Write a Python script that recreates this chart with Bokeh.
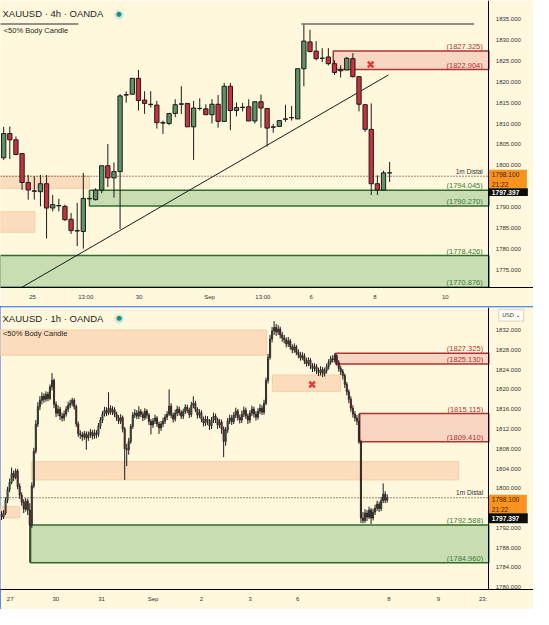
import numpy as np
from bokeh.plotting import figure
from bokeh.models import (Range1d, LinearAxis, FixedTicker, PrintfTickFormatter,
                          ColumnDataSource, Label)
from bokeh.layouts import column
from bokeh.embed import file_html
from bokeh.resources import INLINE
from bokeh.core.properties import value

# ======================= DATA : 4h panel =======================
h4_open = [1801.8, 1807.6, 1806.1, 1802.8, 1795.9, 1793.9, 1793.7, 1795.6, 1789.8, 1790.4,
           1790.2, 1787.1, 1784.4, 1784.2, 1792.0, 1791.8, 1794.1, 1799.9, 1797.0, 1798.5,
           1816.8, 1817.0, 1820.8, 1815.6, 1814.6, 1814.4, 1810.2, 1810.0, 1812.4, 1814.6,
           1814.8, 1809.2, 1813.6, 1813.5, 1812.1, 1814.6, 1810.5, 1818.9, 1813.1, 1813.9,
           1814.0, 1810.6, 1815.2, 1813.6, 1809.2, 1809.3, 1811.0, 1811.4, 1811.1, 1823.1,
           1829.5, 1827.3, 1825.6, 1825.9, 1824.3, 1822.6, 1822.8, 1825.5, 1821.2, 1814.5,
           1808.6, 1795.6, 1794.1, 1798.2]
h4_high = [1809.2, 1809.3, 1806.9, 1802.8, 1797.7, 1797.4, 1797.7, 1797.7, 1792.9, 1792.0,
           1790.6, 1788.6, 1791.0, 1798.2, 1792.3, 1794.5, 1799.9, 1805.1, 1800.7, 1817.0,
           1817.7, 1820.8, 1822.8, 1817.7, 1817.7, 1815.4, 1810.7, 1812.4, 1815.8, 1818.9,
           1814.8, 1815.4, 1816.0, 1814.6, 1815.8, 1816.8, 1819.7, 1819.7, 1815.0, 1814.9,
           1815.8, 1815.2, 1816.9, 1813.6, 1809.9, 1810.7, 1814.5, 1814.2, 1823.1, 1833.6,
           1832.4, 1829.7, 1828.0, 1828.0, 1825.1, 1823.9, 1825.9, 1826.8, 1821.2, 1814.5,
           1814.8, 1797.6, 1798.7, 1800.8]
h4_low = [1801.3, 1801.5, 1802.4, 1794.1, 1791.8, 1791.8, 1790.2, 1782.5, 1789.0, 1789.0,
          1786.7, 1783.6, 1780.7, 1780.1, 1791.8, 1791.6, 1793.3, 1794.8, 1792.3, 1784.8,
          1815.0, 1817.0, 1813.1, 1812.3, 1813.8, 1808.8, 1807.5, 1809.6, 1811.5, 1812.3,
          1809.2, 1801.3, 1813.1, 1812.1, 1810.0, 1809.0, 1810.5, 1808.4, 1811.7, 1812.9,
          1810.6, 1810.0, 1809.0, 1804.5, 1807.8, 1809.3, 1810.4, 1810.7, 1811.1, 1818.9,
          1827.0, 1825.1, 1824.7, 1823.9, 1821.6, 1821.0, 1822.8, 1821.0, 1812.9, 1808.0,
          1792.9, 1792.9, 1794.1, 1796.0]
h4_close = [1807.6, 1806.1, 1802.6, 1795.9, 1794.1, 1793.8, 1795.6, 1789.8, 1790.6, 1790.3,
            1787.0, 1784.4, 1784.3, 1792.1, 1792.1, 1794.1, 1799.9, 1797.0, 1798.5, 1816.6,
            1816.9, 1820.8, 1815.5, 1814.8, 1814.5, 1810.2, 1810.1, 1812.4, 1814.5, 1814.7,
            1809.2, 1813.7, 1813.6, 1812.1, 1814.6, 1810.5, 1818.9, 1813.1, 1813.8, 1813.8,
            1810.6, 1815.2, 1813.7, 1808.9, 1809.1, 1810.7, 1811.1, 1811.4, 1823.1, 1829.7,
            1827.2, 1825.5, 1825.6, 1824.3, 1822.2, 1822.8, 1825.6, 1821.2, 1814.6, 1808.6,
            1795.6, 1794.1, 1798.2, 1798.2]

h4_time_ticks = [4.7, 13.4, 22.1, 33.6, 42.3, 50.2, 60.6, 72.1]
h4_time_labels = ["25", "13:00", "30", "Sep", "13:00", "6", "8", "10"]
h4_price_ticks = [1775, 1780, 1785, 1790, 1800, 1805, 1810, 1815, 1820, 1825, 1830, 1835]

h4_red_left = [53.8]
h4_red_bottom = [1822.904]
h4_red_top = [1827.325]
h4_green_left = [14.0, -0.6]
h4_green_bottom = [1790.270, 1770.876]
h4_green_top = [1794.045, 1778.426]
h4_peach_left = [-0.6, -0.6]
h4_peach_right = [14.0, 5.1]
h4_peach_bottom = [1794.5, 1784.0]
h4_peach_top = [1797.4, 1788.9]
h4_trend_x = [2.9, 62.8]
h4_trend_y = [1770.8, 1821.6]
h4_high_line_x0 = [-0.6, 48.6]
h4_high_line_x1 = [12.2, 76.8]
h4_high_line_y = 1833.8
h4_cross_x = [59.9]
h4_cross_y = [1824.1]
h4_distal = 1797.4

# ======================= DATA : 1h panel =======================
h1_first_open = 1794.8
h1_close = [1794.2, 1795.0, 1797.6, 1799.8, 1801.2, 1803.0, 1802.2, 1803.5, 1800.4, 1798.6,
            1797.2, 1795.8, 1797.4, 1795.6, 1792.6, 1800.5, 1807.5, 1813.0, 1816.5, 1817.8,
            1818.6, 1818.0, 1819.0, 1818.2, 1820.5, 1821.8, 1817.0, 1815.2, 1816.0, 1814.6,
            1814.2, 1815.0, 1816.0, 1816.8, 1817.2, 1817.8, 1816.5, 1813.0, 1811.0, 1810.8,
            1810.4, 1811.0, 1810.2, 1810.8, 1811.3, 1810.6, 1811.2, 1810.9, 1812.6, 1813.8,
            1815.0, 1815.8, 1815.2, 1816.2, 1815.4, 1815.9, 1815.0, 1814.2, 1813.6, 1814.3,
            1812.0, 1808.0, 1807.8, 1809.5, 1812.5, 1814.8, 1815.2, 1814.6, 1815.5, 1815.0,
            1814.3, 1815.6, 1814.8, 1813.5, 1812.8, 1813.6, 1814.2, 1813.0, 1812.2, 1813.0,
            1813.6, 1814.4, 1815.0, 1816.6, 1814.8, 1814.0, 1815.2, 1816.0, 1815.3, 1814.6,
            1815.5, 1816.4, 1815.8, 1814.9, 1816.8, 1817.2, 1816.0, 1814.8, 1815.3, 1814.0,
            1813.2, 1814.0, 1813.5, 1812.6, 1813.8, 1814.6, 1813.9, 1812.8, 1813.4, 1812.0,
            1809.5, 1811.8, 1813.6, 1814.2, 1813.5, 1814.8, 1815.6, 1814.3, 1813.8, 1815.0,
            1815.8, 1814.6, 1813.8, 1815.2, 1816.0, 1815.0, 1814.4, 1815.6, 1816.2, 1815.4,
            1817.2, 1821.8, 1826.5, 1830.2, 1831.8, 1832.5, 1831.6, 1832.2, 1831.0, 1830.4,
            1830.0, 1829.2, 1829.8, 1828.6, 1828.0, 1828.6, 1827.5, 1827.0, 1826.4, 1826.8,
            1825.8, 1825.2, 1825.9, 1824.8, 1824.2, 1824.6, 1823.8, 1823.4, 1824.0, 1823.2,
            1823.8, 1824.6, 1825.5, 1826.2, 1826.0, 1826.8, 1825.4, 1824.2, 1823.6, 1822.8,
            1821.0, 1819.5, 1818.0, 1816.2, 1815.0, 1814.2, 1813.6, 1809.4, 1794.0, 1793.5,
            1795.0, 1794.2, 1795.6, 1794.0, 1795.2, 1796.0, 1796.8, 1795.9, 1797.5, 1798.8,
            1797.6, 1798.1]
h1_high = [1795.4, 1795.6, 1798.2, 1800.3, 1802.0, 1804.2, 1803.6, 1804.0, 1803.9, 1801.0,
           1799.2, 1797.8, 1798.0, 1797.9, 1797.0, 1801.2, 1808.2, 1813.8, 1817.4, 1818.6,
           1819.4, 1819.2, 1819.6, 1819.5, 1821.0, 1823.3, 1822.2, 1817.6, 1816.8, 1816.5,
           1815.3, 1815.7, 1816.6, 1817.5, 1817.9, 1818.3, 1818.2, 1816.9, 1813.5, 1811.7,
           1811.4, 1811.6, 1811.5, 1811.5, 1812.0, 1811.8, 1811.9, 1811.8, 1813.2, 1814.4,
           1815.6, 1816.5, 1816.4, 1819.4, 1816.8, 1816.6, 1816.4, 1815.5, 1814.8, 1815.0,
           1814.7, 1812.4, 1809.0, 1810.2, 1813.0, 1815.4, 1816.0, 1815.8, 1816.6, 1816.0,
           1815.5, 1816.2, 1816.0, 1815.2, 1814.0, 1814.2, 1814.9, 1814.6, 1813.5, 1813.6,
           1814.3, 1815.0, 1815.6, 1820.0, 1817.2, 1815.3, 1815.9, 1816.7, 1816.5, 1815.8,
           1816.1, 1817.0, 1816.9, 1816.3, 1817.5, 1818.6, 1817.7, 1816.4, 1816.0, 1815.8,
           1814.5, 1814.7, 1814.6, 1814.0, 1814.4, 1815.3, 1815.1, 1814.3, 1814.0, 1813.9,
           1812.5, 1812.4, 1814.2, 1814.9, 1814.8, 1815.4, 1816.3, 1816.0, 1814.9, 1815.7,
           1816.5, 1816.3, 1815.1, 1815.8, 1816.7, 1816.5, 1815.6, 1816.2, 1817.0, 1816.8,
           1817.9, 1822.4, 1827.2, 1831.0, 1832.6, 1833.8, 1833.2, 1833.0, 1832.7, 1831.6,
           1831.0, 1830.5, 1830.6, 1830.2, 1829.1, 1829.3, 1829.0, 1828.1, 1827.6, 1827.5,
           1827.3, 1826.4, 1826.5, 1826.3, 1825.3, 1825.3, 1825.1, 1824.4, 1824.7, 1824.5,
           1824.4, 1825.2, 1826.1, 1826.8, 1826.9, 1827.3, 1827.1, 1825.9, 1824.8, 1824.1,
           1823.2, 1821.5, 1820.0, 1818.6, 1816.8, 1815.6, 1814.8, 1815.1, 1809.8, 1795.2,
           1795.8, 1795.6, 1796.3, 1796.0, 1795.9, 1796.7, 1797.5, 1797.3, 1798.2, 1801.0,
           1799.4, 1798.8]
h1_low = [1793.6, 1793.8, 1794.6, 1797.0, 1799.2, 1800.8, 1801.5, 1801.8, 1799.8, 1797.9,
          1796.5, 1795.0, 1795.3, 1794.6, 1785.0, 1792.0, 1800.0, 1807.0, 1812.4, 1815.8,
          1817.0, 1817.3, 1817.5, 1817.6, 1817.8, 1819.8, 1816.2, 1814.4, 1814.6, 1813.8,
          1813.5, 1813.6, 1814.5, 1815.4, 1816.2, 1816.6, 1815.9, 1812.4, 1810.4, 1810.0,
          1809.6, 1809.8, 1807.8, 1809.6, 1810.2, 1809.9, 1810.0, 1810.1, 1810.4, 1812.0,
          1813.2, 1814.5, 1814.6, 1814.8, 1814.9, 1814.8, 1814.4, 1813.6, 1813.0, 1813.0,
          1811.3, 1801.7, 1804.5, 1806.8, 1809.0, 1812.0, 1814.2, 1814.0, 1814.0, 1814.4,
          1813.6, 1813.8, 1814.1, 1812.8, 1810.9, 1812.2, 1813.0, 1812.4, 1811.0, 1811.6,
          1812.4, 1813.0, 1813.8, 1814.6, 1814.2, 1813.3, 1813.5, 1814.6, 1814.7, 1814.0,
          1814.0, 1815.0, 1815.2, 1814.2, 1814.4, 1816.2, 1815.4, 1814.1, 1814.2, 1813.4,
          1812.5, 1812.6, 1812.8, 1811.8, 1812.0, 1813.2, 1813.2, 1812.0, 1812.2, 1811.0,
          1806.3, 1808.6, 1811.2, 1813.0, 1812.8, 1813.0, 1814.2, 1813.7, 1813.1, 1813.2,
          1814.4, 1814.0, 1813.0, 1813.2, 1814.6, 1814.3, 1813.7, 1813.9, 1815.0, 1814.8,
          1814.9, 1816.8, 1821.2, 1826.0, 1829.5, 1831.0, 1830.8, 1831.0, 1830.3, 1829.6,
          1829.3, 1828.5, 1828.6, 1828.0, 1827.3, 1827.4, 1826.9, 1826.3, 1825.8, 1825.9,
          1825.1, 1824.6, 1824.7, 1824.1, 1823.5, 1823.6, 1823.1, 1822.7, 1822.8, 1822.5,
          1822.6, 1823.2, 1824.0, 1825.0, 1825.4, 1825.5, 1824.8, 1823.6, 1822.9, 1822.0,
          1820.3, 1818.8, 1817.2, 1815.5, 1814.3, 1813.5, 1812.8, 1809.0, 1793.0, 1792.9,
          1793.0, 1793.4, 1793.8, 1792.8, 1793.5, 1794.6, 1795.4, 1795.2, 1795.4, 1797.0,
          1797.0, 1797.1]

h1_time_ticks = [4.3, 26.9, 49.5, 75.0, 99.0, 123.1, 146.6, 191.8, 216.3, 238.5]
h1_time_labels = ["27", "30", "31", "Sep", "2", "3", "6", "8", "9", "23:"]
h1_price_ticks = [1780, 1784, 1788, 1792, 1800, 1804, 1808, 1812, 1816, 1820, 1824, 1828, 1832]

h1_red_left = [165.4, 177.4]
h1_red_bottom = [1825.130, 1809.410]
h1_red_top = [1827.325, 1815.115]
h1_green_left = [14.4]
h1_green_bottom = [1784.960]
h1_green_top = [1792.588]
h1_peach_left = [-0.6, 134.1, 14.9, -0.6]
h1_peach_right = [131.3, 167.8, 226.4, 9.0]
h1_peach_bottom = [1826.9, 1819.6, 1801.7, 1794.0]
h1_peach_top = [1832.0, 1822.9, 1805.4, 1796.3]
h1_cross_x = [153.8]
h1_cross_y = [1821.0]
h1_distal = 1798.1

last_price_text = "1798.100"
countdown_text = "21:22"
prev_price_text = "1797.397"

# ======================= STYLE =======================
BG = "#fff8dc"
UP = "#5e9264"
DOWN = "#c8323f"
WICK = "#1c1c1c"
RED_LINE = "#ad3434"
RED_FILL = "#f9d6c2"
GREEN_LINE = "#2f6d2f"
GREEN_FILL = "#c9ddb2"
PEACH_FILL = "#fbdcbc"
ORANGE = "#f7931e"
TXT = "#333333"
FONT = "Liberation Sans"
W = 533


def make_fig(height, xr, yr, top, bottom):
    p = figure(width=W, height=height, x_range=Range1d(*xr), y_range=Range1d(*yr),
               output_backend="svg", toolbar_location=None,
               x_axis_location=None, y_axis_location=None,
               min_border_left=0, min_border_right=0,
               min_border_top=top, min_border_bottom=bottom,
               background_fill_color=BG, border_fill_color=BG,
               outline_line_color=None)
    p.xgrid.grid_line_color = None
    p.ygrid.grid_line_color = None
    return p


def style_axis(ax, standoff):
    ax.axis_line_color = "#000000"
    ax.major_tick_line_color = None
    ax.minor_tick_line_color = None
    ax.major_tick_out = 0
    ax.major_tick_in = 0
    ax.minor_tick_out = 0
    ax.minor_tick_in = 0
    ax.major_label_text_font = FONT
    ax.major_label_text_font_size = "6px"
    ax.major_label_text_color = TXT
    ax.major_label_standoff = standoff


def add_axes(p, axis_x, price_ticks, t_ticks, t_labels):
    # price scale: a real right axis pinned at the chart / scale boundary
    ya = LinearAxis(ticker=FixedTicker(ticks=price_ticks),
                    formatter=PrintfTickFormatter(format="%.3f"),
                    fixed_location=axis_x)
    style_axis(ya, 7)
    p.add_layout(ya, "right")
    xa = LinearAxis(ticker=FixedTicker(ticks=t_ticks),
                    major_label_overrides={t: s for t, s in zip(t_ticks, t_labels)})
    style_axis(xa, 6)
    p.add_layout(xa, "below")


def add_zones(p, axis_x, red, green, peach):
    pl, pr, pb, pt = peach
    p.quad(left=pl, right=pr, bottom=pb, top=pt, fill_color=PEACH_FILL,
           line_color="#f6cfa6", line_width=1)
    rl, rb, rt = red
    p.quad(left=rl, right=[axis_x] * len(rl), bottom=rb, top=rt,
           fill_color=RED_FILL, line_color=RED_LINE, line_width=1.5)
    gl, gb, gt = green
    p.quad(left=gl, right=[axis_x] * len(gl), bottom=gb, top=gt,
           fill_color=GREEN_FILL, line_color=GREEN_LINE, line_width=1.5)


def add_candles(p, o, h, l, c, width, lw):
    o = np.array(o); h = np.array(h); l = np.array(l); c = np.array(c)
    x = np.arange(len(c))
    src = ColumnDataSource(dict(x=x, hi=h, lo=l,
                                top=np.maximum(o, c), bot=np.minimum(o, c),
                                col=np.where(c >= o, UP, DOWN)))
    p.segment(x0="x", y0="lo", x1="x", y1="hi", source=src, line_color=WICK, line_width=1)
    p.vbar(x="x", width=width, top="top", bottom="bot", fill_color="col",
           line_color=WICK, line_width=lw, source=src)


def add_level_labels(p, xpos, vals, colors):
    p.text(x=[xpos] * len(vals), y=vals, text=["(%.3f)" % v for v in vals],
           text_align="right", text_baseline="bottom", text_color=colors,
           text_font=value(FONT), text_font_size="7.5px")


def add_header(p, x, y_title, y_sub, dot_x, tf):
    p.add_layout(Label(x=x, y=y_title, text="XAUUSD \u00b7 %s \u00b7 OANDA" % tf,
                       text_font=FONT, text_font_size="9.5px", text_color="#1e1e1e",
                       text_baseline="middle", text_align="left"))
    p.add_layout(Label(x=dot_x, y=y_title, text="\u25cf", text_font="DejaVu Sans",
                       text_font_size="12px", text_color="#cfe8dc",
                       text_baseline="middle", text_align="center"))
    p.add_layout(Label(x=dot_x, y=y_title, text="\u25cf", text_font="DejaVu Sans",
                       text_font_size="6.5px", text_color="#17907f",
                       text_baseline="middle", text_align="center"))
    p.add_layout(Label(x=x + 0.2, y=y_sub, text="<50% Body Candle",
                       text_font=FONT, text_font_size="7.5px", text_color="#262626",
                       text_baseline="middle", text_align="left"))


def add_distal(p, x_end, level):
    p.segment(x0=[p.x_range.start], y0=[level], x1=[x_end], y1=[level],
              line_color="#222222", line_dash="1 2", line_width=1)


def add_price_tags(p, axis_x, unit, box_top, box_mid, box_bot, y_last, y_count, y_prev):
    # unit = data units per screen pixel along x
    right = axis_x + 38 * unit
    p.quad(left=[axis_x, axis_x], right=[right, right + unit],
           top=[box_top, box_mid], bottom=[box_mid, box_bot],
           fill_color=[ORANGE, "#0d0d0d"], line_color=None)
    tx = axis_x + 3 * unit
    p.text(x=[tx, tx, tx], y=[y_last, y_count, y_prev],
           text=[last_price_text, countdown_text, prev_price_text],
           text_color=["#4a2200", "#4a2200", "#ffffff"],
           text_font_style=["normal", "normal", "bold"],
           text_align="left", text_baseline="middle",
           text_font=value(FONT), text_font_size="6.6px")


# ======================= TOP (4h) =======================
u1 = 1 / (6.31 * 533 / 549)          # index units per screen pixel
ax1 = 79.2                           # chart / price-scale boundary
xr1 = (-0.52, -0.52 + 533 * u1)
p1 = make_fig(306, xr1, (1770.8, 1839.4), 0, 19)
add_axes(p1, ax1, h4_price_ticks, h4_time_ticks, h4_time_labels)
add_zones(p1, ax1, (h4_red_left, h4_red_bottom, h4_red_top),
          (h4_green_left, h4_green_bottom, h4_green_top),
          (h4_peach_left, h4_peach_right, h4_peach_bottom, h4_peach_top))
p1.segment(x0=h4_high_line_x0, y0=[h4_high_line_y] * 2, x1=h4_high_line_x1,
           y1=[h4_high_line_y] * 2, line_color="#6e6e6e", line_width=1.5)
add_distal(p1, ax1, h4_distal)
p1.line(h4_trend_x, h4_trend_y, line_color="#1a1a1a", line_width=1)
add_candles(p1, h4_open, h4_high, h4_low, h4_close, 0.7, 1)
p1.scatter(h4_cross_x, h4_cross_y, marker="x", size=8, line_width=2.5, line_color="#e0393b")
add_level_labels(p1, 78.2, h4_red_top + h4_red_bottom + h4_green_top + h4_green_bottom,
                 [RED_LINE] * 2 + ["#3b7d3b"] * 4)
p1.text(x=[78.2], y=[h4_distal + 0.4], text=["1m Distal"], text_align="right",
        text_baseline="bottom", text_font=value(FONT), text_font_size="6.5px",
        text_color="#333333")
add_header(p1, -0.2, 1836.2, 1832.2, 18.8, "4h")
add_price_tags(p1, ax1, u1, 1798.95, 1794.55, 1792.7, 1797.8, 1795.5, 1793.6)

# ======================= BOTTOM (1h) =======================
h1_open = [h1_first_open] + h1_close[:-1]
u2 = 1 / (2.08 * 533 / 549)
ax2 = 241.3
xr2 = (-0.5, -0.5 + 533 * u2)
p2 = make_fig(303, xr2, (1779.55, 1836.55), 1, 20)
add_axes(p2, ax2, h1_price_ticks, h1_time_ticks, h1_time_labels)
add_zones(p2, ax2, (h1_red_left, h1_red_bottom, h1_red_top),
          (h1_green_left, h1_green_bottom, h1_green_top),
          (h1_peach_left, h1_peach_right, h1_peach_bottom, h1_peach_top))
add_distal(p2, ax2, h1_distal)
add_candles(p2, h1_open, h1_high, h1_low, h1_close, 0.55, 0.8)
p2.scatter(h1_cross_x, h1_cross_y, marker="x", size=8, line_width=2.5, line_color="#e0393b")
add_level_labels(p2, 238.5, h1_red_top + h1_red_bottom + h1_green_top + h1_green_bottom,
                 [RED_LINE] * 4 + ["#3b7d3b"] * 2)
p2.text(x=[238.5], y=[h1_distal + 0.3], text=["1m Distal"], text_align="right",
        text_baseline="bottom", text_font=value(FONT), text_font_size="6.5px",
        text_color="#333333")
add_header(p2, 0.5, 1834.4, 1831.3, 58.2, "1h")
add_price_tags(p2, ax2, u2, 1798.7, 1794.95, 1792.95, 1797.7, 1795.8, 1793.9)
# currency selector box at the top of the price scale
p2.quad(left=[ax2 + 10 * u2], right=[ax2 + 35 * u2], top=[1836.2], bottom=[1833.8],
        fill_color="#fffdf4", line_color="#d8d2bf", line_width=1)
p2.text(x=[ax2 + 22.5 * u2], y=[1835.0], text=["USD \u2304"], text_align="center",
        text_baseline="middle", text_font=value("DejaVu Sans"), text_font_size="5.5px",
        text_color="#333333")
p2.styles = {"outline": "2px solid #2962ff", "outline-offset": "-2px"}

layout = column(p1, p2, spacing=0)
open("out.html", "w").write(file_html(layout, INLINE))
